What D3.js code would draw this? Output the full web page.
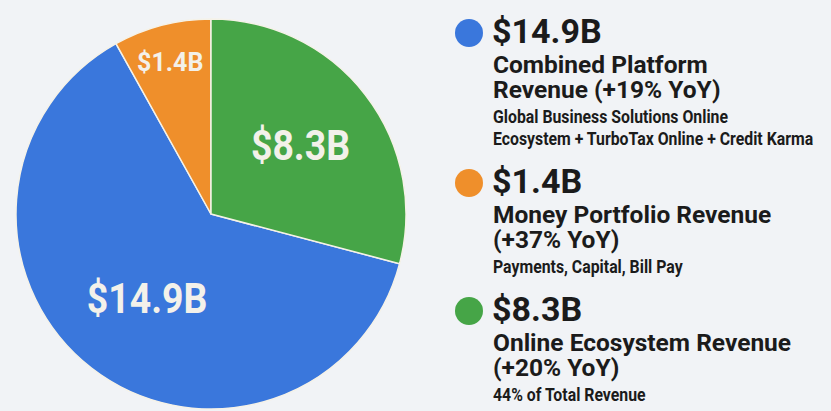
<!DOCTYPE html>
<html>
<head>
<meta charset="utf-8">
<script src="https://cdn.jsdelivr.net/npm/d3@7"></script>
<style>
  html, body { margin: 0; padding: 0; background: #f1f3f6; }
  svg { display: block; font-family: Roboto, "Noto Sans", sans-serif; }
</style>
</head>
<body>
<script>
const w = 831
const h = 411

// data, in legend order
const labels = ["$14.9B", "$1.4B", "$8.3B"]
const revenue = [14.9, 1.4, 8.3]
// share of the circle each slice takes in the picture (%)
const sliceShare = [62.8, 8.1, 29.1]
const titles = [
  ["Combined Platform", "Revenue (+19% YoY)"],
  ["Money Portfolio Revenue", "(+37% YoY)"],
  ["Online Ecosystem Revenue", "(+20% YoY)"]
]
const notes = [
  ["Global Business Solutions Online", "Ecosystem + TurboTax Online + Credit Karma"],
  ["Payments, Capital, Bill Pay"],
  ["44% of Total Revenue"]
]
const colors = ["#3a77dc", "#ef8f2b", "#46a547"]

const data = labels.map((d, i) => ({
  label: d, value: revenue[i], share: sliceShare[i],
  title: titles[i], note: notes[i], color: colors[i]
}))

const svg = d3.create("svg")
  .attr("width", w)
  .attr("height", h)

svg.append("rect")
  .attr("width", w)
  .attr("height", h)
  .attr("fill", "#f1f3f6")

// pie
const cx = 211, cy = 214, r = 195
const total = d3.sum(sliceShare)
const start = -(sliceShare[0] + sliceShare[1]) / total * 2 * Math.PI

const pie = d3.pie()
  .sort(null)
  .value(d => d.share)
  .startAngle(start)
  .endAngle(start + 2 * Math.PI)

const arc = d3.arc().innerRadius(0).outerRadius(r)

const g = svg.append("g")
  .attr("transform", `translate(${cx},${cy})`)

const arcs = pie(data)

g.selectAll("path")
  .data(arcs)
  .join("path")
  .attr("d", arc)
  .attr("fill", d => d.data.color)
  .attr("stroke", "#f5f2e8")
  .attr("stroke-width", 1.5)
  .attr("stroke-linejoin", "round")

// labels inside the slices
const small = d => d.data.share < 10
const labelPos = d => {
  const k = small(d) ? 0.79 : 0.56
  return d3.arc().innerRadius(r * k).outerRadius(r * k).centroid(d)
}

g.selectAll("text")
  .data(arcs)
  .join("text")
  .attr("transform", d => {
    const [x, y] = labelPos(d)
    const sx = small(d) ? 1 : 0.87
    return `translate(${x + (small(d) ? -2 : 3)},${y - 3}) scale(${sx},1)`
  })
  .attr("text-anchor", "middle")
  .attr("dy", "0.36em")
  .attr("fill", "#f3f1ea")
  .attr("font-weight", 700)
  .attr("font-size", d => small(d) ? 25 : 43)
  .text(d => d.data.label)

// legend
const lx = 469
let y = 43
data.forEach(d => {
  const item = svg.append("g")
  item.append("circle")
    .attr("cx", lx)
    .attr("cy", y - 10)
    .attr("r", 14)
    .attr("fill", d.color)
  item.append("text")
    .attr("x", 492)
    .attr("y", y)
    .attr("font-size", 34)
    .attr("font-weight", 700)
    .attr("fill", "#1b1b1b")
    .text(d.label)
  y += 30
  d.title.forEach((t, i) => {
    if (i > 0) y += 25
    item.append("text")
      .attr("x", 493)
      .attr("y", y)
      .attr("font-size", 24.5)
      .attr("font-weight", 700)
      .attr("fill", "#1b1b1b")
      .text(t)
  })
  y += 25
  d.note.forEach((t, i) => {
    if (i > 0) y += 22
    item.append("text")
      .attr("transform", `translate(493,${y}) scale(0.88,1)`)
      .attr("font-size", 18)
      .attr("font-weight", 700)
      .attr("fill", "#1b1b1b")
      .text(t)
  })
  y += 48
})

d3.select("body")
  .append(() => svg.node())
</script>
</body>
</html>
